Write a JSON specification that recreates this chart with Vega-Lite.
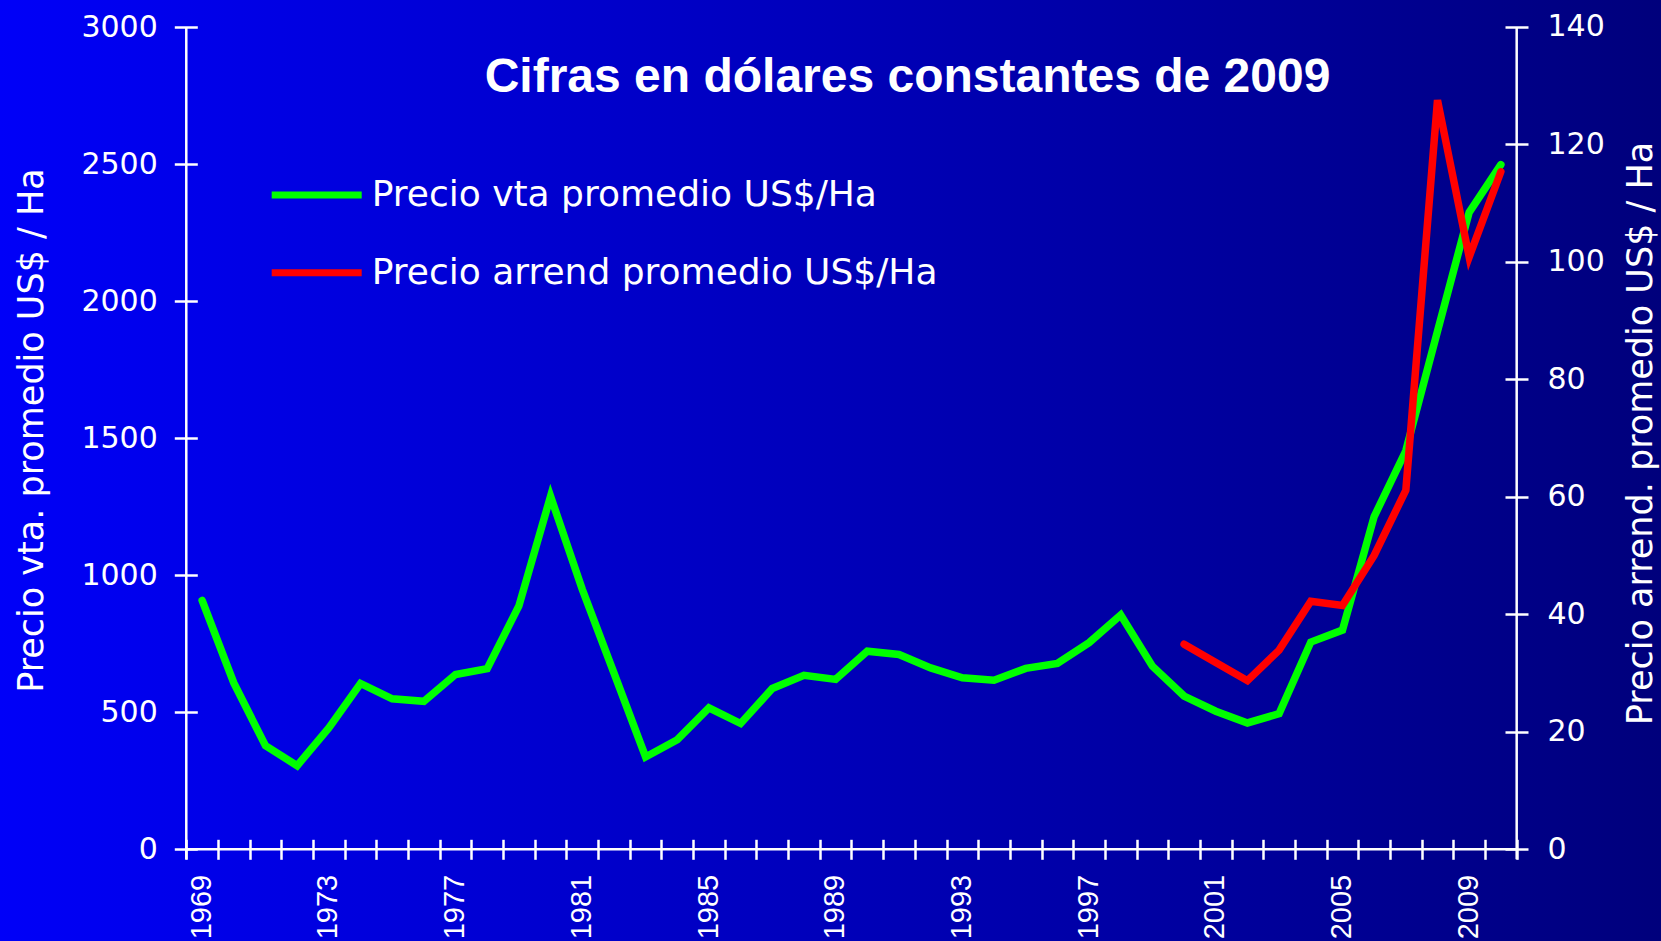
{
  "$schema": "https://vega.github.io/schema/vega-lite/v6.json",
  "width": 1661,
  "height": 941,
  "padding": 0,
  "autosize": {"type": "none"},
  "background": "#0000C0",
  "title": {
    "text": "Cifras en dólares constantes de 2009",
    "font": "Liberation Sans",
    "fontSize": 48,
    "fontWeight": "bold",
    "color": "white",
    "anchor": "middle",
    "frame": "group",
    "baseline": "alphabetic",
    "offset": 0,
    "dx": 77,
    "dy": 140
  },
  "data": {
    "values": [
      {"year": 1969, "venta": 908, "arriendo": null},
      {"year": 1970, "venta": 607, "arriendo": null},
      {"year": 1971, "venta": 378, "arriendo": null},
      {"year": 1972, "venta": 305, "arriendo": null},
      {"year": 1973, "venta": 443, "arriendo": null},
      {"year": 1974, "venta": 605, "arriendo": null},
      {"year": 1975, "venta": 549, "arriendo": null},
      {"year": 1976, "venta": 540, "arriendo": null},
      {"year": 1977, "venta": 638, "arriendo": null},
      {"year": 1978, "venta": 659, "arriendo": null},
      {"year": 1979, "venta": 888, "arriendo": null},
      {"year": 1980, "venta": 1288, "arriendo": null},
      {"year": 1981, "venta": 949, "arriendo": null},
      {"year": 1982, "venta": 644, "arriendo": null},
      {"year": 1983, "venta": 337, "arriendo": null},
      {"year": 1984, "venta": 400, "arriendo": null},
      {"year": 1985, "venta": 516, "arriendo": null},
      {"year": 1986, "venta": 459, "arriendo": null},
      {"year": 1987, "venta": 587, "arriendo": null},
      {"year": 1988, "venta": 635, "arriendo": null},
      {"year": 1989, "venta": 620, "arriendo": null},
      {"year": 1990, "venta": 723, "arriendo": null},
      {"year": 1991, "venta": 711, "arriendo": null},
      {"year": 1992, "venta": 662, "arriendo": null},
      {"year": 1993, "venta": 626, "arriendo": null},
      {"year": 1994, "venta": 617, "arriendo": null},
      {"year": 1995, "venta": 660, "arriendo": null},
      {"year": 1996, "venta": 678, "arriendo": null},
      {"year": 1997, "venta": 754, "arriendo": null},
      {"year": 1998, "venta": 855, "arriendo": null},
      {"year": 1999, "venta": 668, "arriendo": null},
      {"year": 2000, "venta": 559, "arriendo": 34.9},
      {"year": 2001, "venta": 504, "arriendo": 31.8},
      {"year": 2002, "venta": 461, "arriendo": 28.7},
      {"year": 2003, "venta": 495, "arriendo": 33.9},
      {"year": 2004, "venta": 756, "arriendo": 42.2},
      {"year": 2005, "venta": 800, "arriendo": 41.5},
      {"year": 2006, "venta": 1214, "arriendo": 50.0},
      {"year": 2007, "venta": 1454, "arriendo": 61.1},
      {"year": 2008, "venta": 1890, "arriendo": 127.5},
      {"year": 2009, "venta": 2324, "arriendo": 100.8},
      {"year": 2010, "venta": 2498, "arriendo": 115.3}
    ]
  },
  "layer": [
    {
      "data": {"values": [{"k": 1}]},
      "mark": {"type": "rule", "color": "white", "strokeWidth": 2.5},
      "encoding": {
        "x": {"datum": 1968.5, "type": "quantitative", "axis": {"values": [1968.5, 1969.5, 1970.5, 1971.5, 1972.5, 1973.5, 1974.5, 1975.5, 1976.5, 1977.5, 1978.5, 1979.5, 1980.5, 1981.5, 1982.5, 1983.5, 1984.5, 1985.5, 1986.5, 1987.5, 1988.5, 1989.5, 1990.5, 1991.5, 1992.5, 1993.5, 1994.5, 1995.5, 1996.5, 1997.5, 1998.5, 1999.5, 2000.5, 2001.5, 2002.5, 2003.5, 2004.5, 2005.5, 2006.5, 2007.5, 2008.5, 2009.5, 2010.5]}},
        "y": {"datum": 3000, "type": "quantitative", "scale": {"domain": [-334.6, 3098.9], "nice": false, "zero": false}, "axis": null},
        "y2": {"datum": -36.5}
      }
    },
    {
      "data": {"values": [{"k": 1}]},
      "mark": {"type": "rule", "color": "white", "strokeWidth": 2.5},
      "encoding": {
        "x": {"datum": 2010.5, "type": "quantitative", "axis": {"values": [1968.5, 1969.5, 1970.5, 1971.5, 1972.5, 1973.5, 1974.5, 1975.5, 1976.5, 1977.5, 1978.5, 1979.5, 1980.5, 1981.5, 1982.5, 1983.5, 1984.5, 1985.5, 1986.5, 1987.5, 1988.5, 1989.5, 1990.5, 1991.5, 1992.5, 1993.5, 1994.5, 1995.5, 1996.5, 1997.5, 1998.5, 1999.5, 2000.5, 2001.5, 2002.5, 2003.5, 2004.5, 2005.5, 2006.5, 2007.5, 2008.5, 2009.5, 2010.5]}},
        "y": {"datum": 3000, "type": "quantitative", "scale": {"domain": [-334.6, 3098.9], "nice": false, "zero": false}, "axis": null},
        "y2": {"datum": -36.5}
      }
    },
    {
      "data": {"values": [{"k": 1}]},
      "mark": {"type": "rule", "color": "white", "strokeWidth": 2.5},
      "encoding": {
        "x": {"datum": 1968.5, "type": "quantitative", "axis": {"values": [1968.5, 1969.5, 1970.5, 1971.5, 1972.5, 1973.5, 1974.5, 1975.5, 1976.5, 1977.5, 1978.5, 1979.5, 1980.5, 1981.5, 1982.5, 1983.5, 1984.5, 1985.5, 1986.5, 1987.5, 1988.5, 1989.5, 1990.5, 1991.5, 1992.5, 1993.5, 1994.5, 1995.5, 1996.5, 1997.5, 1998.5, 1999.5, 2000.5, 2001.5, 2002.5, 2003.5, 2004.5, 2005.5, 2006.5, 2007.5, 2008.5, 2009.5, 2010.5]}},
        "x2": {"datum": 2010.5},
        "y": {"datum": 0, "type": "quantitative", "scale": {"domain": [-334.6, 3098.9], "nice": false, "zero": false}, "axis": null}
      }
    },
    {
      "mark": {"type": "line", "strokeWidth": 7.5, "strokeCap": "round", "strokeJoin": "miter"},
      "encoding": {
        "x": {"field": "year", "type": "quantitative", "axis": {"values": [1968.5, 1969.5, 1970.5, 1971.5, 1972.5, 1973.5, 1974.5, 1975.5, 1976.5, 1977.5, 1978.5, 1979.5, 1980.5, 1981.5, 1982.5, 1983.5, 1984.5, 1985.5, 1986.5, 1987.5, 1988.5, 1989.5, 1990.5, 1991.5, 1992.5, 1993.5, 1994.5, 1995.5, 1996.5, 1997.5, 1998.5, 1999.5, 2000.5, 2001.5, 2002.5, 2003.5, 2004.5, 2005.5, 2006.5, 2007.5, 2008.5, 2009.5, 2010.5]}},
        "y": {
          "field": "venta",
          "type": "quantitative",
          "scale": {"domain": [-334.6, 3098.9], "nice": false, "zero": false},
          "axis": {
            "orient": "left",
            "offset": -197.3,
            "values": [0, 500, 1000, 1500, 2000, 2500, 3000],
            "format": "d",
            "domain": false,
            "grid": false,
            "tickSize": 23,
            "tickWidth": 2.5,
            "tickColor": "white",
            "labelColor": "white",
            "labelFont": "DejaVu Sans",
            "labelFontSize": 30,
            "labelPadding": 17,
            "labelFlush": false,
            "labelOverlap": false,
            "title": "Precio vta. promedio US$ / Ha",
            "titleFont": "DejaVu Sans",
            "titleFontSize": 35,
            "titleFontWeight": "normal",
            "titleColor": "white",
            "titleY": 430,
            "titlePadding": 31
          }
        },
        "color": {
          "datum": "Precio vta promedio US$/Ha",
          "type": "nominal",
          "scale": {"domain": ["Precio vta promedio US$/Ha", "Precio arrend promedio US$/Ha"], "range": ["#00FF00", "#FF0000"]},
          "legend": {
            "orient": "none",
            "legendX": 290.7,
            "legendY": 168.9,
            "direction": "vertical",
            "title": null,
            "padding": 0,
            "symbolType": "M-2,0H2",
            "symbolSize": 2025,
            "symbolStrokeWidth": 7,
            "labelFont": "DejaVu Sans",
            "labelFontSize": 36,
            "labelColor": "white",
            "labelOffset": 29,
            "labelLimit": 2000,
            "rowPadding": 33.8
          }
        }
      }
    },
    {
      "mark": {"type": "line", "strokeWidth": 7.5, "strokeCap": "round", "strokeJoin": "miter"},
      "encoding": {
        "x": {"field": "year", "type": "quantitative", "axis": {"values": [1968.5, 1969.5, 1970.5, 1971.5, 1972.5, 1973.5, 1974.5, 1975.5, 1976.5, 1977.5, 1978.5, 1979.5, 1980.5, 1981.5, 1982.5, 1983.5, 1984.5, 1985.5, 1986.5, 1987.5, 1988.5, 1989.5, 1990.5, 1991.5, 1992.5, 1993.5, 1994.5, 1995.5, 1996.5, 1997.5, 1998.5, 1999.5, 2000.5, 2001.5, 2002.5, 2003.5, 2004.5, 2005.5, 2006.5, 2007.5, 2008.5, 2009.5, 2010.5]}},
        "y": {
          "field": "arriendo",
          "type": "quantitative",
          "scale": {"domain": [-15.61, 144.54], "nice": false, "zero": false},
          "axis": {
            "orient": "right",
            "offset": -156,
            "values": [0, 20, 40, 60, 80, 100, 120, 140],
            "format": "d",
            "domain": false,
            "grid": false,
            "tickSize": 23,
            "tickWidth": 2.5,
            "tickColor": "white",
            "labelColor": "white",
            "labelFont": "DejaVu Sans",
            "labelFontSize": 30,
            "labelPadding": 19,
            "labelFlush": false,
            "labelOverlap": false,
            "title": "Precio arrend. promedio US$ / Ha",
            "titleFont": "DejaVu Sans",
            "titleFontSize": 35,
            "titleFontWeight": "normal",
            "titleColor": "white",
            "titleAngle": -90,
            "titleBaseline": "top",
            "titleAlign": "center",
            "titleX": 118,
            "titleY": 433
          }
        },
        "color": {"datum": "Precio arrend promedio US$/Ha", "type": "nominal"}
      }
    }
  ],
  "resolve": {"scale": {"y": "independent"}, "axis": {"y": "independent"}},
  "config": {
    "font": "DejaVu Sans",
    "axisX": {
      "orient": "bottom",
      "offset": -101.7,
      "domain": false,
      "grid": false,
      "tickSize": 20,
      "tickWidth": 2.5,
      "tickColor": "white",
      "labelExpr": "(datum.value + 0.5 - 1969) % 4 == 0 ? '' + (datum.value + 0.5) : ''",
      "labelAngle": -90,
      "labelOffset": 15,
      "labelPadding": 15,
      "labelFont": "Liberation Sans",
      "labelFontSize": 29,
      "labelColor": "white",
      "labelOverlap": false,
      "labelFlush": false,
      "labelBound": false,
      "title": null
    },
    "view": {
      "stroke": null,
      "fill": {
        "gradient": "linear",
        "x1": 0, "y1": 0, "x2": 1, "y2": 0,
        "stops": [
          {"offset": 0, "color": "#0000F8"},
          {"offset": 1, "color": "#00007C"}
        ]
      }
    }
  },
  "encoding": {
    "x": {"scale": {"domain": [1962.619, 2015.056], "nice": false, "zero": false}}
  }
}
